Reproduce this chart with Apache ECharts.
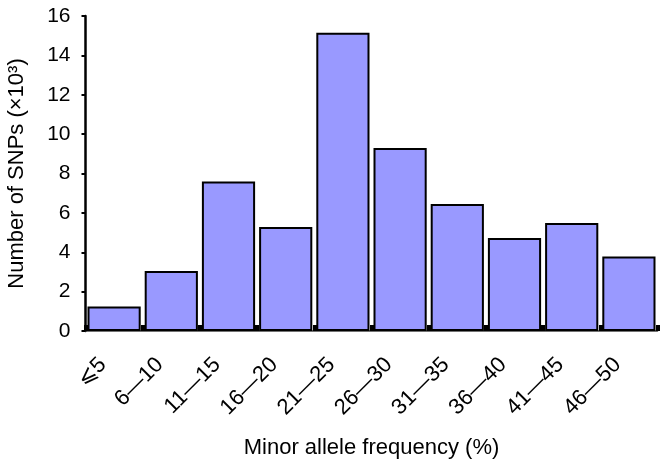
<!DOCTYPE html>
<html>
<head>
<meta charset="utf-8">
<script src="https://cdn.jsdelivr.net/npm/echarts@6/dist/echarts.min.js"></script>
<style>
html,body{margin:0;padding:0;background:#fff;}
#chart{width:664px;height:467px;}
</style>
</head>
<body>
<div id="chart"></div>
<script>
const categories = ['⩽5','6—10','11—15','16—20','21—25','26—30','31—35','36—40','41—45','46—50'];
const values = [1.24, 3.05, 7.6, 5.28, 15.15, 9.3, 6.45, 4.73, 5.48, 3.78];
const yMin = 0, yMax = 16, yStep = 2;
const xTitle = 'Minor allele frequency (%)';
const yTitle = 'Number of SNPs (×10³)';

const font = '"Liberation Sans", Arial, "DejaVu Sans", sans-serif';
const chart = echarts.init(document.getElementById('chart'), null, {renderer: 'canvas'});
chart.setOption({
  animation: false,
  backgroundColor: '#fff',
  grid: {left: 85.5, right: 6.5, top: 16, bottom: 136, containLabel: false, outerBoundsMode: 'none'},
  xAxis: {
    type: 'category',
    data: categories,
    boundaryGap: true,
    name: xTitle,
    nameLocation: 'middle',
    nameGap: 106,
    nameTextStyle: {fontFamily: font, fontSize: 22, color: '#000'},
    axisLine: {show: true, lineStyle: {color: '#444', width: 1.5}},
    axisTick: {show: true, inside: true, length: 6, lineStyle: {color: '#000', width: 4}},
    axisLabel: {rotate: 45, margin: 19, padding: [0, 16, 0, 0], fontFamily: font, fontSize: 22, color: '#000', interval: 0},
    splitLine: {show: false}
  },
  yAxis: {
    type: 'value',
    min: yMin, max: yMax, interval: yStep,
    name: yTitle,
    nameLocation: 'middle',
    nameGap: 58,
    nameTextStyle: {fontFamily: font, fontSize: 22, color: '#000'},
    axisLine: {show: true, lineStyle: {color: '#000', width: 2.5}},
    axisTick: {show: true, inside: false, length: 4, lineStyle: {color: '#000', width: 2}},
    axisLabel: {margin: 15, fontFamily: font, fontSize: 21, color: '#000'},
    splitLine: {show: false}
  },
  series: [{
    type: 'bar',
    data: values,
    barCategoryGap: '7%',
    itemStyle: {color: '#9999FF', borderColor: '#000', borderWidth: 2}
  }]
});
</script>
</body>
</html>
